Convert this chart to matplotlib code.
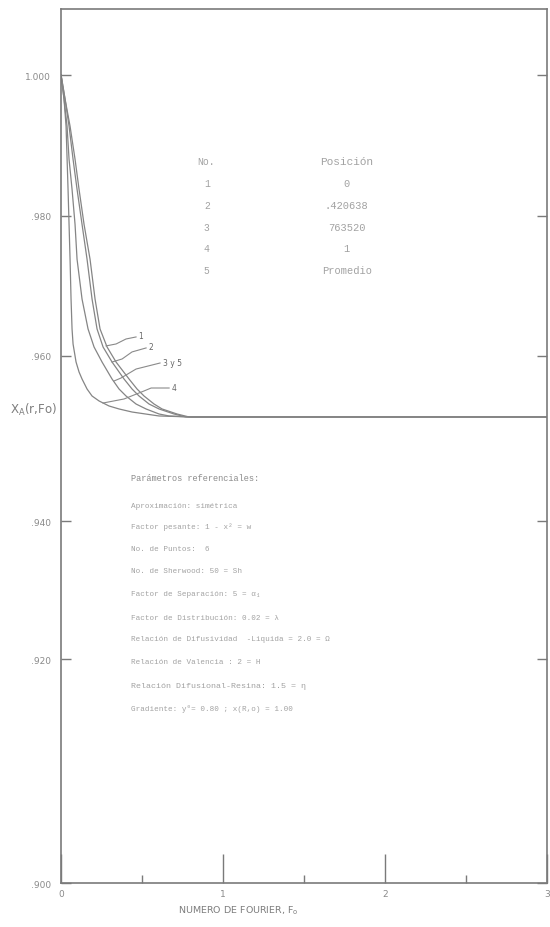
import numpy as np
import matplotlib
matplotlib.use('Agg')
import matplotlib.pyplot as plt

# Concentracion X_A(r,Fo) vs numero de Fourier.
# curve 4 = surface (fastest), curve 1 = centre (slowest), 3 and 5 overlap

fo_4 = [0, .0185, .0309, .0432, .0556, .0617, .0679, .0741, .0926, .1111,
        .1296, .1605, .1914, .2346, .2963, .3580, .4383, .6049, .8025, 3.0]
xa_4 = [1.0, .99658, .99274, .98378, .97382, .96813, .96386, .96172, .95927, .95806,
        .95721, .95600, .95515, .95455, .95394, .95358, .95321, .95273, .95261, .95261]

fo_35 = [0, .0185, .0370, .0494, .0679, .0864, .0988, .1296, .1667, .2037,
         .2531, .3148, .3580, .4012, .4630, .5247, .6049, .6667, .8025, 3.0]
xa_35 = [1.0, .99658, .99274, .98805, .98378, .97880, .97382, .96813, .96386, .96129,
         .95927, .95721, .95600, .95515, .95418, .95358, .95297, .95273, .95261, .95261]

fo_2 = [0, .0247, .0494, .0741, .0988, .1296, .1605, .1914, .2222, .2593,
        .3148, .3889, .4383, .4815, .5432, .6049, .6975, .7716, 3.0]
xa_2 = [1.0, .99658, .99274, .98805, .98378, .97880, .97382, .96813, .96386, .96129,
        .95927, .95721, .95600, .95515, .95418, .95358, .95297, .95261, .95261]

fo_1 = [0, .0247, .0556, .0864, .1111, .1420, .1790, .2099, .2407, .2840,
        .3395, .4198, .4691, .5123, .5741, .6235, .7160, .7901, 3.0]
xa_1 = [1.0, .99658, .99274, .98805, .98378, .97880, .97382, .96813, .96386, .96129,
        .95927, .95721, .95600, .95515, .95418, .95358, .95297, .95261, .95261]

# leader lines for the curve numbers (fo, xa) -> text
lead_1 = ([.278, .340, .401, .463], [.96144, .96172, .96243, .96272])
lead_2 = ([.315, .377, .438, .525], [.95927, .95964, .96058, .96115])
lead_35 = ([.327, .370, .463, .611], [.95697, .95733, .95842, .95915])
lead_4 = ([.259, .389, .512, .556, .667], [.95430, .95479, .95576, .95612, .95612])
lead_text = ['1', '2', '3 y 5', '4']
lead_text_pos = [(.475, .96290), (.540, .96129), (.630, .95927), (.685, .95624)]

# axis ticks
y_ticks = [0.900, 0.920, 0.940, 0.960, 0.980, 1.000]
y_tick_labels = ['.900', '.920', '.940', '.960', '.980', '1.000']
x_ticks = [0, 1, 2, 3]
x_minor = [0.5, 1.5, 2.5]

# table of positions
tabla_no = ['1', '2', '3', '4', '5']
tabla_pos = ['0', '.420638', '763520', '1', 'Promedio']

parametros = [
    'Aproximación: simétrica',
    'Factor pesante: 1 - x² = w',
    'No. de Puntos:  6',
    'No. de Sherwood: 50 = Sh',
    'Factor de Separación: 5 = α₁',
    'Factor de Distribución: 0.02 = λ',
    'Relación de Difusividad  -Liquida = 2.0 = Ω',
    'Relación de Valencia : 2 = H',
    'Relación Difusional-Resina: 1.5 = η',
    'Gradiente: y⁰= 0.80 ; x(R,o) = 1.00',
]

# the original y axis is not evenly spaced (hand drawn), so map the ticks
# to where they sit on the page with a piecewise linear scale
y_knots = [0.900, 0.920, 0.940, 0.960, 0.980, 1.000, 1.00939]
f_knots = [0.0, 0.2563, 0.4142, 0.6030, 0.7632, 0.9245, 1.0]


def fwd(v):
    return np.interp(v, y_knots, f_knots)


def inv(f):
    return np.interp(f, f_knots, y_knots)


grey = '#7a7a7a'
light = '#a2a2a2'
mono = ['Liberation Mono', 'DejaVu Sans Mono']

plt.rcParams['font.family'] = 'DejaVu Sans'

fig = plt.figure(figsize=(5.5, 9.28), dpi=100)
ax = fig.add_axes([0.111, 0.0474, 0.8836, 0.9418])

ax.set_yscale('function', functions=(fwd, inv))

for fo, xa in [(fo_4, xa_4), (fo_35, xa_35), (fo_2, xa_2), (fo_1, xa_1)]:
    ax.plot(fo, xa, color='#858585', lw=0.9)

for (lx, ly), txt, (tx, ty) in zip([lead_1, lead_2, lead_35, lead_4], lead_text, lead_text_pos):
    ax.plot(lx, ly, color='#8a8a8a', lw=0.8)
    ax.text(tx, ty, txt, fontsize=5.5, color='#666666', va='center', ha='left')

ax.set_xlim(0, 3)
ax.set_ylim(0.900, 1.00939)

ax.set_yticks(y_ticks)
ax.set_yticklabels(y_tick_labels)
ax.set_xticks(x_ticks)
ax.set_xticklabels([str(t) for t in x_ticks])
ax.set_xticks(x_minor, minor=True)

ax.tick_params(axis='y', which='major', direction='in', length=7, width=1,
               color=grey, labelsize=6.5, labelcolor='#8a8a8a', pad=7, right=True)
ax.tick_params(axis='x', which='major', direction='in', length=21, width=1,
               color=grey, labelsize=6.5, labelcolor='#8a8a8a', pad=4)
ax.tick_params(axis='x', which='minor', direction='in', length=6, width=1, color=grey)
ax.tick_params(axis='y', which='minor', left=False, right=False)

for s in ax.spines.values():
    s.set_color(grey)
    s.set_linewidth(1.2)

# table (No. / Posicion)
ax.text(0.298, 0.8261, 'No.', transform=ax.transAxes, fontsize=7, family=mono,
        color=light, ha='center', va='center')
ax.text(0.588, 0.8261, 'Posición', transform=ax.transAxes, fontsize=8, family=mono,
        color=light, ha='center', va='center')
for i, (n, p) in enumerate(zip(tabla_no, tabla_pos)):
    yy = 0.8009 - i * 0.0249
    ax.text(0.300, yy, n, transform=ax.transAxes, fontsize=7, family=mono,
            color=light, ha='center', va='center')
    ax.text(0.588, yy, p, transform=ax.transAxes, fontsize=7.5, family=mono,
            color=light, ha='center', va='center')

# parameter block
ax.text(0.144, 0.4645, 'Parámetros referenciales:', transform=ax.transAxes,
        fontsize=6.2, family=mono, color='#8c8c8c', ha='left', va='center')
par_y = [0.4325, 0.4085, 0.3833, 0.3581, 0.3318, 0.3043, 0.2792, 0.2529, 0.2265, 0.2002]
for txt, yy in zip(parametros, par_y):
    fs = 5.5
    if txt.startswith('Relación Difusional'):
        fs = 6.0
    ax.text(0.144, yy, txt, transform=ax.transAxes, fontsize=fs, family=mono,
            color=light, ha='left', va='center')

# axis titles sit where the original put them, not centred
fig.text(0.018, 0.558, 'X$_\\mathregular{A}$(r,Fo)', fontsize=8.5, color='#7d7d7d',
         ha='left', va='center')
fig.text(0.433, 0.019, 'NUMERO DE FOURIER, F$_\\mathregular{o}$', fontsize=6.8,
         color='#7d7d7d', ha='center', va='center')

fig.savefig('out.png', dpi=100)
